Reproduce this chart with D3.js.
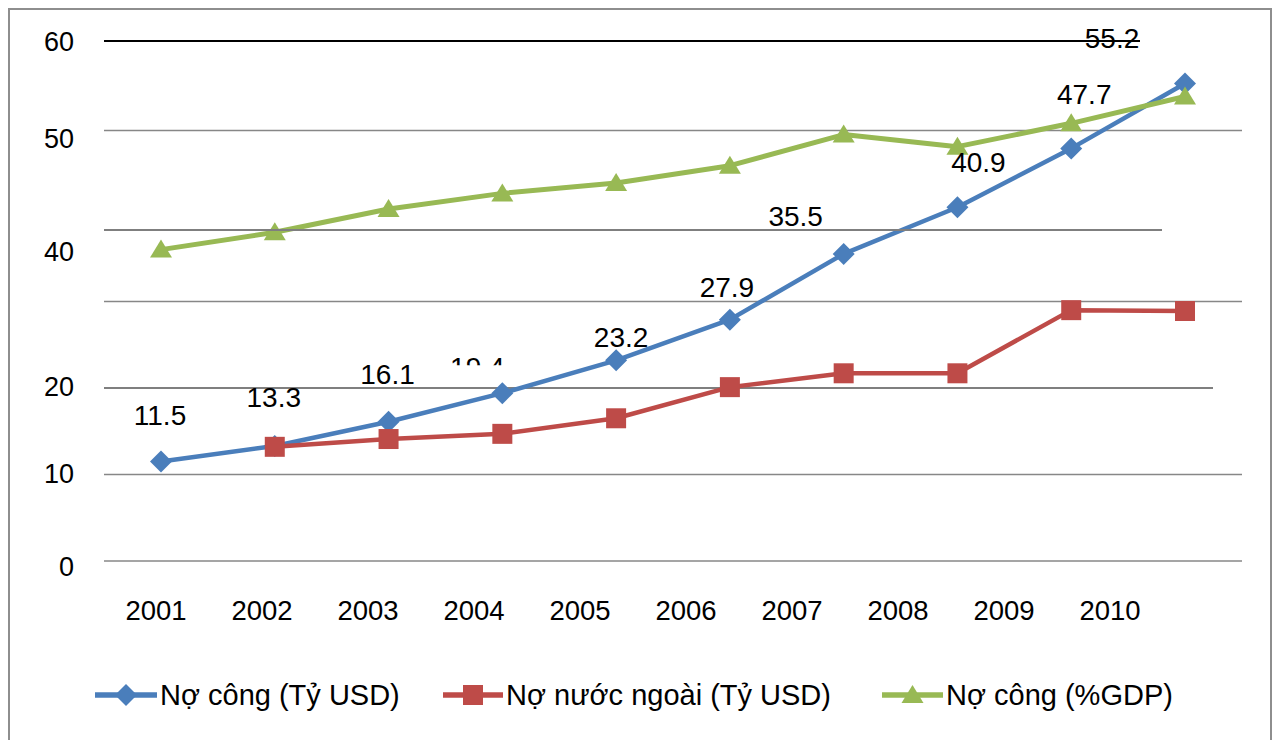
<!DOCTYPE html>
<html>
<head>
<meta charset="utf-8">
<script src="https://cdn.jsdelivr.net/npm/d3@7"></script>
<style>
  html, body { margin: 0; padding: 0; background: #fff; }
  svg { display: block; }
  text { font-family: "Liberation Sans", Arial, sans-serif; fill: #000; }
</style>
</head>
<body>
<svg id="chart" width="1280" height="740"></svg>
<script>
// Vietnam public debt, 2001-2010
const years = [2001, 2002, 2003, 2004, 2005, 2006, 2007, 2008, 2009, 2010];
const publicDebtUsd = [11.5, 13.3, 16.1, 19.4, 23.2, 27.9, 35.5, 40.9, 47.7, 55.2];
const foreignDebtUsd = [null, 13.2, 14.1, 14.7, 16.5, 20.1, 21.7, 21.7, 29.0, 28.9];
const publicDebtGdp = [36.0, 38.0, 40.7, 42.5, 43.7, 45.7, 49.3, 47.9, 50.6, 53.7];
const seriesNames = ["Nợ công (Tỷ USD)", "Nợ nước ngoài (Tỷ USD)", "Nợ công (%GDP)"];
const yTicks = [0, 10, 20, 30, 40, 50, 60];
const yTickLabels = ["0", "10", "20", "", "40", "50", "60"];

// Presentation settings (kept apart from the values)
const gridStyle = {
  0:  { x2: 1242, stroke: "#878787", w: 1.6, dy: 0,  top: false, labelDy: 6 },
  10: { x2: 1242, stroke: "#878787", w: 1.6, dy: 0,  top: false, labelDy: -1 },
  20: { x2: 1213, stroke: "#7f7f7f", w: 2.2, dy: 0,  top: false, labelDy: -1 },
  30: { x2: 1242, stroke: "#878787", w: 1.6, dy: 0,  top: false, labelDy: 0 },
  40: { x2: 1162, stroke: "#7f7f7f", w: 2.2, dy: 15, top: true,  labelDy: 37 },
  50: { x2: 1242, stroke: "#878787", w: 1.6, dy: 2,  top: false, labelDy: 10 },
  60: { x2: 1140, stroke: "#000000", w: 2.0, dy: -1, top: true,  labelDy: 0 }
};
const labelNudge = [[-1, -46], [-1, -48], [-1, -47], [-25, -26], [5, -23],
                    [-3, -32], [-48, -37], [21, -45], [13, -54], [-73, -45]];
const colors = { blue: "#4a7ebb", red: "#be4b48", green: "#98b954" };

const svg = d3.select("#chart");

// Scales
const x = d3.scalePoint().domain(years).range([161, 1185]);
const xLabel = d3.scalePoint().domain(years).range([156, 1110]);
const y = d3.scaleLinear().domain([0, 60]).range([561, 42]);

// Outer frame
svg.append("rect")
  .attr("x", 9).attr("y", 9).attr("width", 1262).attr("height", 740)
  .attr("fill", "none").attr("stroke", "#8e8e8e").attr("stroke-width", 2);

const gridBack = svg.append("g");
const seriesLayer = svg.append("g");
const labelLayer = svg.append("g");
const gridFront = svg.append("g");

function drawGrid(v) {
  const s = gridStyle[v];
  const g = s.top ? gridFront : gridBack;
  g.append("line")
    .attr("x1", 104).attr("x2", s.x2)
    .attr("y1", y(v) + s.dy).attr("y2", y(v) + s.dy)
    .attr("stroke", s.stroke).attr("stroke-width", s.w);
}
yTicks.forEach(drawGrid);

// Y tick labels
svg.append("g").selectAll("text")
  .data(yTicks.map((v, i) => ({ v, t: yTickLabels[i] })).filter(d => d.t !== ""))
  .join("text")
  .attr("x", 74)
  .attr("y", d => y(d.v) + gridStyle[d.v].labelDy)
  .attr("text-anchor", "end")
  .attr("dominant-baseline", "central")
  .attr("font-size", 27)
  .text(d => d.t);

// X tick labels
svg.append("g").selectAll("text")
  .data(years)
  .join("text")
  .attr("x", d => xLabel(d))
  .attr("y", 610)
  .attr("text-anchor", "middle")
  .attr("dominant-baseline", "central")
  .attr("font-size", 27.5)
  .text(d => d);

// Marker shapes (Excel-style: square diamond, square, triangle)
function markerPath(m) {
  if (m === "diamond") return "M0,-11L11,0L0,11L-11,0Z";
  if (m === "square") return "M-10,-10H10V10H-10Z";
  return "M0,-10L11,8L-11,8Z";
}

const series = [
  { name: seriesNames[0], values: publicDebtUsd, color: colors.blue, marker: "diamond", w: 4.5 },
  { name: seriesNames[1], values: foreignDebtUsd, color: colors.red, marker: "square", w: 4.5 },
  { name: seriesNames[2], values: publicDebtGdp, color: colors.green, marker: "triangle", w: 5 }
];

series.forEach(s => {
  const pts = years.map((yr, i) => ({ yr, v: s.values[i] })).filter(d => d.v != null);
  const line = d3.line().x(d => x(d.yr)).y(d => y(d.v));
  const g = seriesLayer.append("g");
  g.append("path")
    .attr("d", line(pts))
    .attr("fill", "none")
    .attr("stroke", s.color)
    .attr("stroke-width", s.w)
    .attr("stroke-linejoin", "round");
  g.selectAll("path.m")
    .data(pts)
    .join("path")
    .attr("class", "m")
    .attr("d", markerPath(s.marker))
    .attr("transform", d => `translate(${x(d.yr)},${y(d.v)})`)
    .attr("fill", s.color);
});

// The 2004 label is only partly shown
svg.append("clipPath").attr("id", "cut2004")
  .append("rect").attr("x", 0).attr("y", 0).attr("width", 1280)
  .attr("height", y(publicDebtUsd[3]) + labelNudge[3][1] - 2);

// Value labels for public debt (bn USD)
labelLayer.selectAll("text")
  .data(publicDebtUsd.map((v, i) => ({ v, yr: years[i], i })))
  .join("text")
  .attr("x", d => x(d.yr) + labelNudge[d.i][0])
  .attr("y", d => y(d.v) + labelNudge[d.i][1])
  .attr("text-anchor", "middle")
  .attr("dominant-baseline", "central")
  .attr("font-size", 28)
  .attr("clip-path", d => d.yr === 2004 ? "url(#cut2004)" : null)
  .text(d => d.v.toFixed(1));

// Legend
const legend = svg.append("g");
const legendItems = [
  { s: series[0], x1: 95, x2: 157, tx: 160 },
  { s: series[1], x1: 443, x2: 503, tx: 506 },
  { s: series[2], x1: 882, x2: 943, tx: 946 }
];
legendItems.forEach(it => {
  const ly = 695;
  legend.append("line")
    .attr("x1", it.x1).attr("x2", it.x2).attr("y1", ly).attr("y2", ly)
    .attr("stroke", it.s.color).attr("stroke-width", 5.5);
  legend.append("path")
    .attr("d", markerPath(it.s.marker))
    .attr("transform", `translate(${(it.x1 + it.x2) / 2},${ly})`)
    .attr("fill", it.s.color);
  legend.append("text")
    .attr("x", it.tx).attr("y", ly)
    .attr("dominant-baseline", "central")
    .attr("font-size", 29)
    .text(it.s.name);
});
</script>
</body>
</html>
